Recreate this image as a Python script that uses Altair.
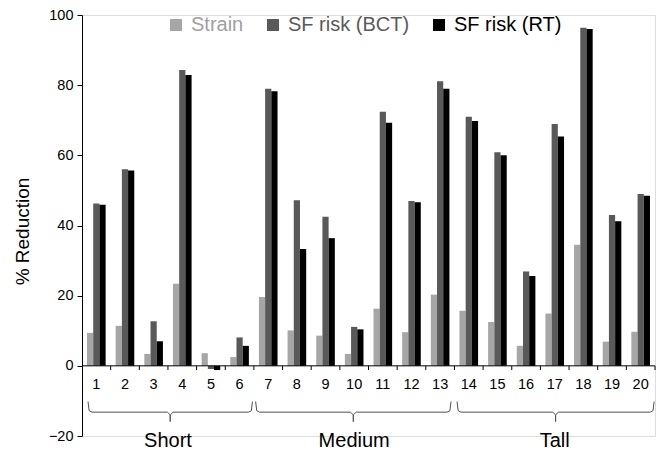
import altair as alt
import pandas as pd

FONT = "Liberation Sans"

groups = [str(i) for i in range(1, 21)]
strain = [9.4, 11.4, 3.4, 23.4, 3.6, 2.5, 19.6, 10.1, 8.6, 3.4, 16.3, 9.6, 20.3, 15.7, 12.5, 5.7, 14.9, 34.5, 6.9, 9.7]
bct = [46.3, 56.0, 12.7, 84.3, -0.9, 8.1, 79.0, 47.2, 42.5, 11.1, 72.4, 47.0, 81.1, 71.0, 60.9, 26.9, 68.9, 96.4, 43.0, 49.0]
rt = [45.9, 55.7, 7.0, 82.9, -1.2, 5.7, 78.3, 33.3, 36.4, 10.4, 69.3, 46.6, 79.0, 69.8, 60.0, 25.6, 65.4, 96.0, 41.2, 48.5]

series_names = ["Strain", "SF risk (BCT)", "SF risk (RT)"]
series_colors = ["#a6a6a6", "#595959", "#000000"]

category_names = ["Short", "Medium", "Tall"]
category_first = [1, 7, 14]
category_last = [6, 13, 20]
brace_start = [0.71, 6.56, 13.59]
brace_end = [6.45, 13.38, 20.47]

y_ticks = [-20, 0, 20, 40, 60, 80, 100]

rows = []
for g, a, b, c in zip(groups, strain, bct, rt):
    rows.append({"group": g, "series": series_names[0], "value": a})
    rows.append({"group": g, "series": series_names[1], "value": b})
    rows.append({"group": g, "series": series_names[2], "value": c})
bars_df = pd.DataFrame(rows)

# axis helpers (quantitative x: group numbers)
boundary_df = pd.DataFrame({"x": [i + 0.5 for i in range(1, 21)], "y": 0, "y2": -1.2})
axis_df = pd.DataFrame({"x": [0.5], "x2": [20.5], "y": [0]})
num_df = pd.DataFrame({"x": list(range(1, 21)), "label": groups, "y": -5.4})

brace_rows = []
for name, s, e in zip(category_names, brace_start, brace_end):
    c = (s + e) / 2
    pts = [(s, -10.2), (s + 0.04, -12.8), (s + 0.14, -13.2),
           (c - 0.1, -13.2), (c, -14.0), (c, -15.9), (c, -14.0), (c + 0.1, -13.2),
           (e - 0.14, -13.2), (e - 0.04, -12.8), (e, -10.2)]
    for k, (px, py) in enumerate(pts):
        brace_rows.append({"brace": name, "order": k, "x": px, "y": py})
brace_df = pd.DataFrame(brace_rows)

cat_df = pd.DataFrame({
    "label": category_names,
    "x": [(f - 0.5 + l + 0.5) / 2 for f, l in zip(category_first, category_last)],
    "y": -21.3,
})

yscale = alt.Scale(domain=[-20, 100], nice=False, zero=False)
xq = alt.Scale(domain=[0.5, 20.5], nice=False, zero=False)

bars = alt.Chart(bars_df).mark_bar().encode(
    x=alt.X("group:N", sort=groups, axis=None,
            scale=alt.Scale(paddingInner=0.35, paddingOuter=0.175)),
    xOffset=alt.XOffset("series:N", sort=series_names),
    y=alt.Y("value:Q", scale=yscale,
            axis=alt.Axis(values=y_ticks, title="% Reduction", grid=False,
                          domainColor="#000000", tickColor="#000000", tickSize=5,
                          labelFontSize=14.5, labelColor="#000000", labelPadding=4,
                          labelFont=FONT, titleFont=FONT,
                          titleFontSize=19, titleFontWeight="normal", titleColor="#000000",
                          titleX=-60, titleY=216, titleBaseline="middle", titleAngle=270)),
    y2=alt.datum(0),
    color=alt.Color("series:N", sort=series_names,
                    scale=alt.Scale(domain=series_names, range=series_colors),
                    legend=alt.Legend(orient="none", legendX=84, legendY=0,
                                      direction="horizontal", title=None,
                                      symbolType="square", symbolSize=144,
                                      symbolStrokeWidth=0, labelFontSize=20,
                                      labelOffset=5, columnPadding=19, padding=0,
                                      labelColor={"expr": "datum.label == 'Strain' ? '#a0a0a0' : (datum.label == 'SF risk (BCT)' ? '#5a5a5a' : '#000000')"},
                                      labelFont=FONT)),
)

xaxis_line = alt.Chart(axis_df).mark_rule(color="#000000", strokeWidth=1).encode(
    x=alt.X("x:Q", scale=xq, axis=None), x2="x2:Q", y=alt.Y("y:Q", scale=yscale))

xticks = alt.Chart(boundary_df).mark_rule(color="#000000", strokeWidth=1).encode(
    x=alt.X("x:Q", scale=xq, axis=None), y=alt.Y("y:Q", scale=yscale), y2="y2:Q")

nums = alt.Chart(num_df).mark_text(fontSize=14.5, font=FONT, color="#000000",
                                   baseline="middle", align="center").encode(
    x=alt.X("x:Q", scale=xq, axis=None), y=alt.Y("y:Q", scale=yscale), text="label:N")

braces = alt.Chart(brace_df).mark_line(color="#505050", strokeWidth=1).encode(
    x=alt.X("x:Q", scale=xq, axis=None), y=alt.Y("y:Q", scale=yscale),
    detail="brace:N", order="order:Q")

cats = alt.Chart(cat_df).mark_text(fontSize=20, font=FONT, color="#000000",
                                   baseline="middle", align="center").encode(
    x=alt.X("x:Q", scale=xq, axis=None), y=alt.Y("y:Q", scale=yscale), text="label:N")

chart = alt.layer(bars, xaxis_line, xticks, nums, braces, cats).resolve_scale(
    x="independent"
).properties(
    width=573, height=421,
    autosize=alt.AutoSizeParams(type="none"),
    padding={"left": 74, "top": 7, "right": 6, "bottom": 17},
    background="#ffffff",
).configure_view(stroke=None).configure(font=FONT)

chart.save("out.html", embed_options={"renderer": "svg", "actions": False})
